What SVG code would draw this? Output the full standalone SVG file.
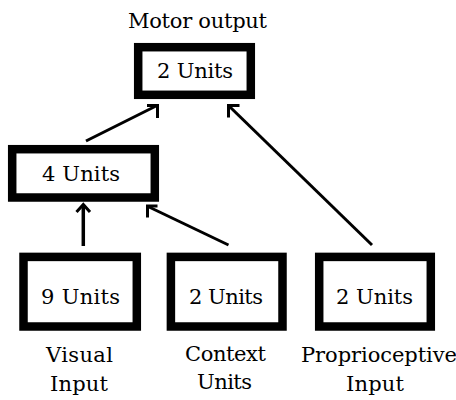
<svg xmlns="http://www.w3.org/2000/svg" width="456" height="400" viewBox="0 0 456 400">
  <style>
    .box { fill: #ffffff; stroke: #000000; stroke-width: 8.5; }
    .lbl { font-family: "DejaVu Serif", "Liberation Serif", serif; font-size: 21px; fill: #000000; text-anchor: middle; }
    .wire { fill: none; stroke: #000000; stroke-width: 3; stroke-linecap: butt; stroke-linejoin: miter; }
  </style>
  <rect x="0" y="0" width="456" height="400" fill="#ffffff"/>

  <!-- connectors: shaft plus open arrowhead -->
  <g id="connectors">
    <path class="wire" d="M86,141 L157,105.5"/>
    <polyline class="wire" points="147,105.5 157.5,105.5 157.5,118"/>

    <path class="wire" d="M372,245 L229,106"/>
    <polyline class="wire" points="239.5,105.5 228.5,105.5 228.5,117.5"/>

    <path class="wire" style="stroke-width:3.5" d="M83.3,246 L83.3,205"/>
    <polyline class="wire" points="76.5,212 83.3,204.5 90,212"/>

    <path class="wire" d="M228.5,245 L148,206.5"/>
    <polyline class="wire" points="157.5,206 147.5,206 147.5,217.5"/>
  </g>

  <!-- output layer -->
  <g id="motor-output">
    <text class="lbl" x="197.5" y="28" textLength="139" lengthAdjust="spacing">Motor output</text>
    <rect class="box" x="138.2" y="47.2" width="112.6" height="47.6"/>
    <text class="lbl" x="195" y="77.5" textLength="76" lengthAdjust="spacing">2 Units</text>
  </g>

  <!-- hidden layer -->
  <g id="hidden">
    <rect class="box" x="12.2" y="149.2" width="142.6" height="48.3"/>
    <text class="lbl" x="81" y="180.5" textLength="78" lengthAdjust="spacing">4 Units</text>
  </g>

  <!-- input layers -->
  <g id="visual-input">
    <rect class="box" x="23.5" y="256.9" width="113.3" height="69.6"/>
    <text class="lbl" x="80.5" y="303.5" textLength="79" lengthAdjust="spacing">9 Units</text>
    <text class="lbl" x="79.5" y="362" textLength="67" lengthAdjust="spacing">Visual</text>
    <text class="lbl" x="79" y="390.5" textLength="58" lengthAdjust="spacing">Input</text>
  </g>

  <g id="context-units">
    <rect class="box" x="170.9" y="256.9" width="111.6" height="69.6"/>
    <text class="lbl" x="226" y="303.5" textLength="74" lengthAdjust="spacing">2 Units</text>
    <text class="lbl" x="225.5" y="361" textLength="81" lengthAdjust="spacing">Context</text>
    <text class="lbl" x="224.5" y="388.5" textLength="55" lengthAdjust="spacing">Units</text>
  </g>

  <g id="proprioceptive-input">
    <rect class="box" x="319.2" y="256.9" width="111.6" height="69.6"/>
    <text class="lbl" x="374.5" y="303.5" textLength="77" lengthAdjust="spacing">2 Units</text>
    <text class="lbl" x="379" y="362" textLength="156" lengthAdjust="spacing">Proprioceptive</text>
    <text class="lbl" x="375" y="390.5" textLength="58" lengthAdjust="spacing">Input</text>
  </g>
</svg>
